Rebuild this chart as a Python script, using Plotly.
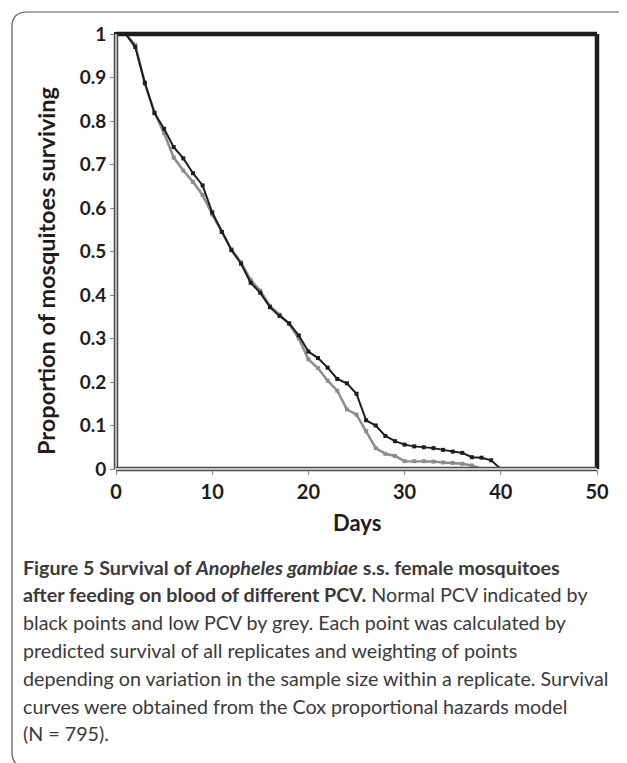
import plotly.graph_objects as go

# ---------------- data ----------------
days = list(range(0, 41))
normal_pcv = [1.0, 1.0, 0.97, 0.888, 0.818, 0.782, 0.74, 0.714, 0.68, 0.652,
              0.59, 0.545, 0.503, 0.472, 0.428, 0.405, 0.372, 0.352, 0.335, 0.307,
              0.27, 0.255, 0.233, 0.207, 0.197, 0.173, 0.112, 0.1, 0.076, 0.064,
              0.056, 0.052, 0.05, 0.048, 0.044, 0.04, 0.037, 0.027, 0.026, 0.02,
              0.0]
low_days = list(range(0, 39))
low_pcv = [1.0, 1.0, 0.975, 0.886, 0.82, 0.772, 0.716, 0.686, 0.66, 0.63,
           0.585, 0.545, 0.505, 0.475, 0.435, 0.41, 0.375, 0.355, 0.333, 0.3,
           0.252, 0.232, 0.203, 0.18, 0.137, 0.125, 0.087, 0.048, 0.035, 0.03,
           0.018, 0.018, 0.018, 0.017, 0.015, 0.014, 0.012, 0.008, 0.0]
x_ticks = [0, 10, 20, 30, 40, 50]
y_ticks = [0, 0.1, 0.2, 0.3, 0.4, 0.5, 0.6, 0.7, 0.8, 0.9, 1.0]
y_tick_labels = ["0", "0.1", "0.2", "0.3", "0.4", "0.5", "0.6", "0.7", "0.8", "0.9", "1"]

caption_lines = [
    "<b>Figure 5 Survival of <i>Anopheles gambiae</i> s.s. female mosquitoes</b>",
    "<b>after feeding on blood of different PCV.</b> Normal PCV indicated by",
    "black points and low PCV by grey. Each point was calculated by",
    "predicted survival of all replicates and weighting of points",
    "depending on variation in the sample size within a replicate. Survival",
    "curves were obtained from the Cox proportional hazards model",
    "(N = 795).",
]

# ---------------- layout geometry (pixels) ----------------
W, H = 627, 763
PL, PR, PT, PB = 108, 589, 26, 461  # plot area edges


def px(x):
    return (x - PL) / (PR - PL)


def py(y):
    return (PB - y) / (PB - PT)


FONT = "Lato"
BLACK = "#1e1c1d"
GREY = "#8c8c8c"

fig = go.Figure()
fig.add_trace(go.Scatter(
    x=low_days, y=low_pcv, mode="lines+markers", name="Low PCV",
    line=dict(color=GREY, width=2.5),
    marker=dict(symbol="square", size=4, color=GREY),
    cliponaxis=False))
fig.add_trace(go.Scatter(
    x=days, y=normal_pcv, mode="lines+markers", name="Normal PCV",
    line=dict(color=BLACK, width=2),
    marker=dict(symbol="square", size=4, color=BLACK),
    cliponaxis=False))

fig.update_xaxes(range=[0, 50], tickvals=x_ticks, showgrid=False, zeroline=False,
                 showline=False, ticks="outside", ticklen=5, tickcolor="#8a8a8a",
                 tickwidth=1,
                 tickfont=dict(family=FONT, size=20, color=BLACK, weight="bold"))
fig.update_yaxes(range=[0, 1], tickvals=y_ticks, ticktext=y_tick_labels,
                 showgrid=False, zeroline=False, showline=False, ticks="outside",
                 ticklen=5, tickcolor="#8a8a8a", tickwidth=1,
                 tickfont=dict(family=FONT, size=19, color=BLACK, weight="bold"))

shapes = []
# frame: thick black top and right
shapes.append(dict(type="line", xref="paper", yref="paper", x0=0, x1=1, y0=1, y1=1,
                   line=dict(color=BLACK, width=4.5)))
shapes.append(dict(type="line", xref="paper", yref="paper", x0=1, x1=1, y0=0, y1=1,
                   line=dict(color=BLACK, width=4.5)))
# double-looking left and bottom axes
for (x0, x1, y0, y1) in [(0, 0, 0, 1), (0, 1, 0, 0)]:
    shapes.append(dict(type="line", xref="paper", yref="paper", x0=x0, x1=x1, y0=y0, y1=y1,
                       line=dict(color="#4a4a4a", width=4.5)))
    shapes.append(dict(type="line", xref="paper", yref="paper", x0=x0, x1=x1, y0=y0, y1=y1,
                       line=dict(color="#c4c4c4", width=1.8)))

# outer rounded box
r = 15
bx0, by0, bx1, by1 = 4, 4, 660, 759
pts = (f"M {px(bx1)},{py(by0)} L {px(bx0 + r)},{py(by0)} "
       f"Q {px(bx0)},{py(by0)} {px(bx0)},{py(by0 + r)} "
       f"L {px(bx0)},{py(by1 - r)} Q {px(bx0)},{py(by1)} {px(bx0 + r)},{py(by1)} "
       f"L {px(bx1)},{py(by1)}")
shapes.append(dict(type="path", xref="paper", yref="paper", path=pts,
                   line=dict(color="#5a5a5a", width=1.2)))

annotations = []
annotations.append(dict(text="<b>Proportion of mosquitoes surviving</b>", textangle=-90,
                        xref="paper", yref="paper", x=px(38), y=py(263),
                        xanchor="center", yanchor="middle", showarrow=False,
                        font=dict(family=FONT, size=23.5, color=BLACK)))
annotations.append(dict(text="<b>Days</b>", xref="paper", yref="paper",
                        x=px(349), y=py(514), xanchor="center", yanchor="middle",
                        showarrow=False, font=dict(family=FONT, size=22, color=BLACK)))
line_y0, line_gap = 559, 27.8
for i, t in enumerate(caption_lines):
    annotations.append(dict(text=t, xref="paper", yref="paper", x=px(13),
                            y=py(line_y0 + i * line_gap), xanchor="left",
                            yanchor="middle", showarrow=False, align="left",
                            font=dict(family=FONT, size=19.7, color="#3a3a3a")))

fig.update_layout(
    width=W, height=H, margin=dict(l=PL, r=W - PR, t=PT, b=H - PB, pad=0),
    paper_bgcolor="white", plot_bgcolor="white", showlegend=False,
    shapes=shapes, annotations=annotations,
)

fig.write_html("out.html")
